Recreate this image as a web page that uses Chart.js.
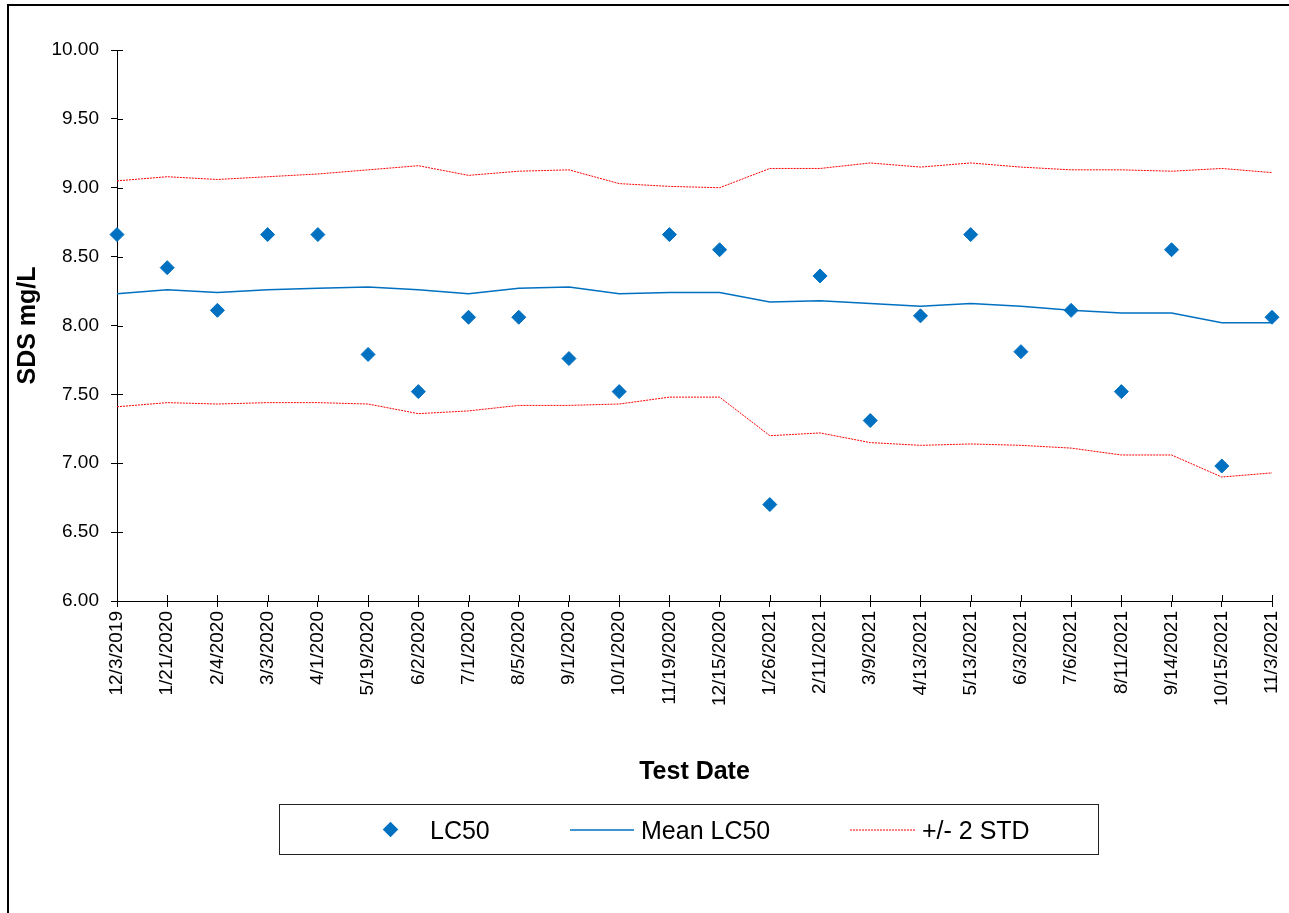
<!DOCTYPE html>
<html lang="en">
<head>
<meta charset="UTF-8">
<title>SDS LC50 Control Chart</title>
<script src="https://cdn.jsdelivr.net/npm/chart.js"></script>
<style>
    body { margin: 0; overflow: hidden; background: #fff; font-family: 'Liberation Sans', Arial, sans-serif; }
    #wrap { position: relative; width: 1289px; height: 913px; }
    #frame { position: absolute; left: 7px; top: 4px; width: 1400px; height: 1000px; border-left: 2px solid #000; border-top: 2px solid #000; }
    #legend { position: absolute; left: 279px; top: 804px; width: 818px; height: 49px; border: 1px solid #222; }
    #legend span { position: absolute; top: 10px; font-size: 25px; line-height: 30px; color: #000; white-space: nowrap; }
    #legend .mark { position: absolute; }
</style>
</head>
<body>
<div id="wrap">
    <div id="frame"></div>
    <canvas id="lcChart" width="1289" height="913"></canvas>
    <div id="legend">
        <div class="mark" style="left:105px; top:19px; width:11px; height:11px; background:#0070C0; transform:rotate(45deg);"></div>
        <span style="left:150px;">LC50</span>
        <svg class="mark" style="left:290px; top:20px;" width="64" height="10">
            <line x1="0" y1="5" x2="64" y2="5" stroke="#0070C0" stroke-width="1.5"/>
        </svg>
        <span style="left:361px;">Mean LC50</span>
        <svg class="mark" style="left:570px; top:20px;" width="66" height="10">
            <line x1="0" y1="5" x2="66" y2="5" stroke="#ff0000" stroke-width="1" stroke-dasharray="2,1"/>
        </svg>
        <span style="left:642px;">+/- 2 STD</span>
    </div>
</div>

<script>
// test dates
var testDates = ['12/3/2019', '1/21/2020', '2/4/2020', '3/3/2020', '4/1/2020', '5/19/2020',
    '6/2/2020', '7/1/2020', '8/5/2020', '9/1/2020', '10/1/2020', '11/19/2020', '12/15/2020',
    '1/26/2021', '2/11/2021', '3/9/2021', '4/13/2021', '5/13/2021', '6/3/2021', '7/6/2021',
    '8/11/2021', '9/14/2021', '10/15/2021', '11/3/2021'];

// SDS mg/L values
var lc50 = [8.66, 8.42, 8.11, 8.66, 8.66, 7.79, 7.52, 8.06, 8.06, 7.76, 7.52, 8.66, 8.55,
    6.70, 8.36, 7.31, 8.07, 8.66, 7.81, 8.11, 7.52, 8.55, 6.98, 8.06];
var meanLc50 = [8.23, 8.26, 8.24, 8.26, 8.27, 8.28, 8.26, 8.23, 8.27, 8.28, 8.23, 8.24, 8.24,
    8.17, 8.18, 8.16, 8.14, 8.16, 8.14, 8.11, 8.09, 8.09, 8.02, 8.02];
var upper2Std = [9.05, 9.08, 9.06, 9.08, 9.10, 9.13, 9.16, 9.09, 9.12, 9.13, 9.03, 9.01, 9.00,
    9.14, 9.14, 9.18, 9.15, 9.18, 9.15, 9.13, 9.13, 9.12, 9.14, 9.11];
var lower2Std = [7.41, 7.44, 7.43, 7.44, 7.44, 7.43, 7.36, 7.38, 7.42, 7.42, 7.43, 7.48, 7.48,
    7.20, 7.22, 7.15, 7.13, 7.14, 7.13, 7.11, 7.06, 7.06, 6.90, 6.93];

var yMin = 6, yMax = 10, yStep = 0.5;

Chart.defaults.font.family = "'Liberation Sans', Arial, sans-serif";
Chart.defaults.color = '#000';

// Excel style tick marks that cross the axis line
var crossTicks = {
    id: 'crossTicks',
    beforeDatasetsDraw: function (chart) {
        var ctx = chart.ctx;
        var area = chart.chartArea;
        var x = chart.scales.x, y = chart.scales.y;
        ctx.save();
        ctx.strokeStyle = '#000';
        ctx.lineWidth = 1;
        ctx.beginPath();
        y.ticks.forEach(function (t, i) {
            var py = Math.round(y.getPixelForTick(i)) + 0.5;
            ctx.moveTo(area.left, py);
            ctx.lineTo(area.left + 6, py);
        });
        x.ticks.forEach(function (t, i) {
            var px = Math.round(x.getPixelForTick(i)) + 0.5;
            ctx.moveTo(px, area.bottom);
            ctx.lineTo(px, area.bottom - 6);
        });
        ctx.stroke();
        ctx.restore();
    }
};

var ctx = document.getElementById('lcChart').getContext('2d');
var lcChart = new Chart(ctx, {
    type: 'line',
    data: {
        labels: testDates,
        datasets: [{
            label: 'LC50',
            data: lc50,
            showLine: false,
            pointStyle: 'rectRot',
            pointRadius: 7,
            pointBorderWidth: 1,
            pointBackgroundColor: '#0070C0',
            pointBorderColor: '#0070C0',
            clip: false,
            order: 0
        }, {
            label: 'Mean LC50',
            data: meanLc50,
            borderColor: '#0070C0',
            borderWidth: 1.5,
            pointRadius: 0,
            fill: false,
            tension: 0,
            order: 1
        }, {
            label: '+/- 2 STD',
            data: upper2Std,
            borderColor: '#ff0000',
            borderWidth: 1,
            borderDash: [2, 1],
            pointRadius: 0,
            fill: false,
            order: 2
        }, {
            label: '+/- 2 STD lower',
            data: lower2Std,
            borderColor: '#ff0000',
            borderWidth: 1,
            borderDash: [2, 1],
            pointRadius: 0,
            fill: false,
            order: 2
        }]
    },
    options: {
        responsive: false,
        animation: false,
        layout: { padding: { left: 13, top: 50, right: 17, bottom: 126 } },
        plugins: {
            legend: { display: false },
            tooltip: { enabled: false }
        },
        scales: {
            x: {
                offset: false,
                grid: { drawOnChartArea: false, tickLength: 6, color: '#000' },
                border: { color: '#000', width: 1 },
                ticks: { autoSkip: false, maxRotation: 90, minRotation: 90, padding: 4, font: { size: 19 } },
                title: { display: true, text: 'Test Date', padding: 0, font: { size: 25, weight: 'bold' } },
                afterFit: function (scale) {
                    scale.height = 186;
                    scale.paddingRight = 0;
                }
            },
            y: {
                min: yMin,
                max: yMax,
                grid: { drawOnChartArea: false, tickLength: 6, color: '#000' },
                border: { color: '#000', width: 1 },
                ticks: {
                    stepSize: yStep,
                    padding: 12,
                    font: { size: 19 },
                    callback: function (v) { return v.toFixed(2); }
                },
                title: { display: true, text: 'SDS mg/L', padding: 0, font: { size: 25, weight: 'bold' } },
                afterFit: function (scale) { scale.width = 104; }
            }
        }
    },
    plugins: [crossTicks]
});
</script>
</body>
</html>
